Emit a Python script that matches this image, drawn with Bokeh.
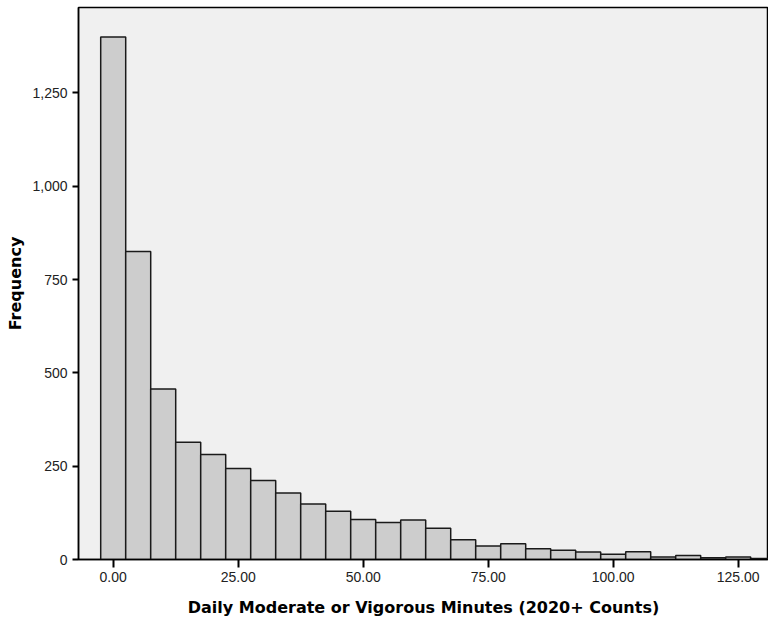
from bokeh.plotting import figure
from bokeh.models import NumeralTickFormatter, FixedTicker, Range1d
from bokeh.embed import file_html
from bokeh.resources import INLINE

# Histogram data (bin centers and frequencies), bin width 5
bin_centers = [0, 5, 10, 15, 20, 25, 30, 35, 40, 45, 50, 55, 60, 65, 70, 75, 80, 85, 90, 95,
               100, 105, 110, 115, 120, 125, 130]
frequencies = [1400, 825, 457, 314, 281, 244, 212, 178, 149, 129, 107, 99, 106, 84, 53, 36, 42, 29,
               25, 20, 14, 21, 7, 11, 5, 7, 3]
bin_width = 5
x_ticks = [0, 25, 50, 75, 100, 125]
y_ticks = [0, 250, 500, 750, 1000, 1250]

lefts = [c - bin_width / 2 for c in bin_centers]
rights = [c + bin_width / 2 for c in bin_centers]

p = figure(width=768, height=627, output_backend="svg", toolbar_location=None,
           x_range=Range1d(-6.94, 131.06), y_range=Range1d(0, 1479),
           min_border_left=78, min_border_right=0, min_border_top=7, min_border_bottom=68)

p.background_fill_color = "#F0F0F0"
p.border_fill_color = "white"
p.outline_line_color = "black"
p.outline_line_width = 1.5
p.grid.visible = False

p.quad(left=lefts, right=rights, bottom=0, top=frequencies,
       fill_color="#CDCDCD", line_color="#1a1a1a", line_width=1.5)

p.xaxis.ticker = FixedTicker(ticks=x_ticks)
p.yaxis.ticker = FixedTicker(ticks=y_ticks)
p.xaxis.formatter = NumeralTickFormatter(format="0.00")
p.yaxis.formatter = NumeralTickFormatter(format="0,0")

for ax in (p.xaxis, p.yaxis):
    ax.minor_tick_line_color = None
    ax.major_tick_in = 0
    ax.major_tick_line_color = "black"
    ax.major_tick_line_width = 2
    ax.axis_line_color = "black"
    ax.axis_line_width = 1.5
    ax.major_label_text_font = "Liberation Sans"
    ax.major_label_text_font_size = "14px"
    ax.major_label_text_color = "#222222"
    ax.axis_label_text_font = "DejaVu Sans"
    ax.axis_label_text_font_style = "bold"
    ax.axis_label_text_color = "black"

p.xaxis.major_tick_out = 8
p.yaxis.major_tick_out = 6
p.xaxis.major_label_standoff = 4
p.yaxis.major_label_standoff = 5

p.xaxis.axis_label = "Daily Moderate or Vigorous Minutes (2020+ Counts)"
p.xaxis.axis_label_text_font_size = "16px"
p.xaxis.axis_label_standoff = 13
p.yaxis.axis_label = "Frequency"
p.yaxis.axis_label_text_font_size = "16px"
p.yaxis.axis_label_standoff = 4

open("out.html", "w").write(file_html(p, INLINE))
